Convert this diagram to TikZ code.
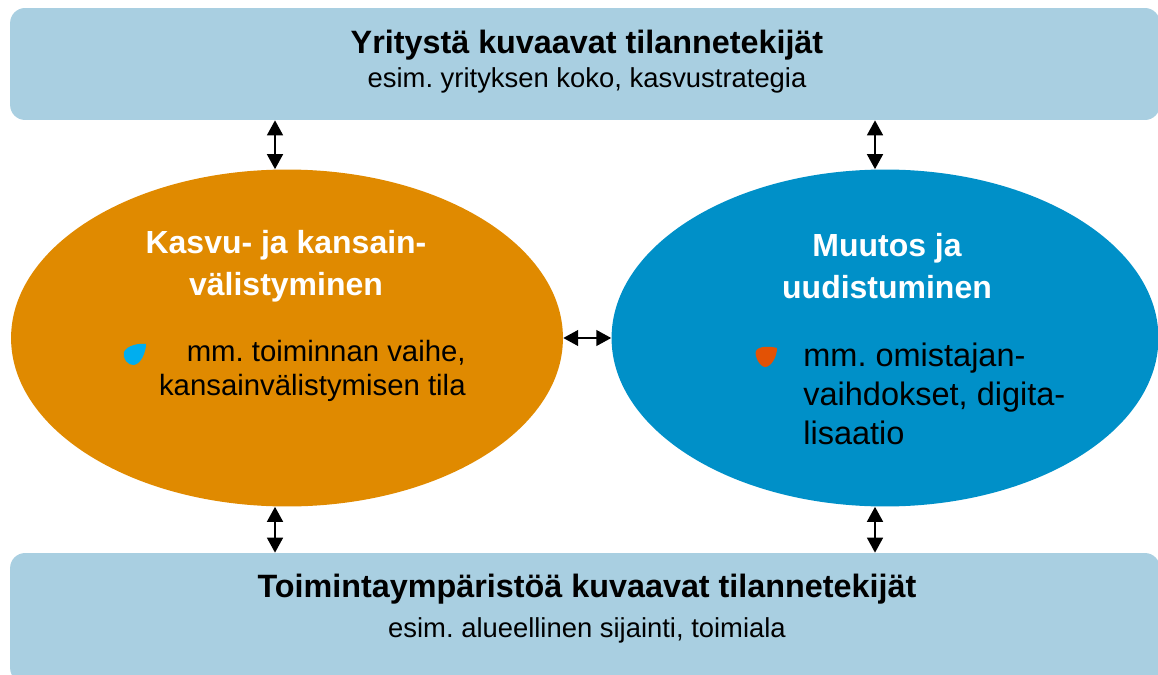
\documentclass[tikz,border=0pt]{standalone}
\usepackage{fontspec}
\setmainfont{Liberation Sans}
\usepackage{tikz}
\usetikzlibrary{arrows.meta,shapes.geometric}

\definecolor{boxblue}{RGB}{169,207,225}
\definecolor{groworange}{RGB}{224,138,0}
\definecolor{changeblue}{RGB}{0,144,200}
\definecolor{dotcyan}{RGB}{0,174,239}
\definecolor{dotred}{RGB}{227,82,5}

\begin{document}
\frenchspacing
\begin{tikzpicture}[x=0.02cm,y=-0.02cm,
      factorbox/.style={
         rectangle,
         rounded corners=0.3cm,
         fill=boxblue,
         draw=none,
         inner sep=0pt,
         minimum width=23.0cm},
      bigoval/.style={
         ellipse,
         draw=none,
         inner sep=0pt,
         minimum width=11.04cm,
         minimum height=6.74cm},
      boxtitle/.style={font=\fontsize{18.4}{22}\selectfont\bfseries},
      boxsub/.style={font=\fontsize{15.6}{18}\selectfont},
      ovaltitle/.style={font=\fontsize{18.2}{23.8}\selectfont\bfseries,text=white,align=center},
      ovaltext/.style={inner sep=0pt},
      myarrow/.style={{Triangle[width=9pt,length=8.5pt]}-{Triangle[width=9pt,length=8.5pt]},line width=1.1pt}
      ]
      \useasboundingbox (0,0) rectangle (1158,675);

      \node[factorbox,minimum height=2.24cm] (firm) at (585,64) {};
      \node[factorbox,minimum height=2.6cm] (env) at (585,618) {};
      \node[bigoval,fill=groworange] (grow) at (287,338) {};
      \node[bigoval,fill=changeblue,minimum width=10.94cm] (change) at (885,338) {};

      \node[boxtitle] (firmtitle) at (587,45) {Yritystä kuvaavat tilannetekijät};
      \node[boxsub] (firmsub) at (587,80) {esim. yrityksen koko, kasvustrategia};
      \node[boxtitle] (envtitle) at (587,589) {Toimintaympäristöä kuvaavat tilannetekijät};
      \node[boxsub] (envsub) at (587,630) {esim. alueellinen sijainti, toimiala};

      \node[ovaltitle] (growtitle) at (286,266) {Kasvu- ja kansain-\\välistyminen};
      \node[ovaltitle] (changetitle) at (887,266) {Muutos ja\\uudistuminen};

      \node[ovaltext,align=right,anchor=east,font=\fontsize{16.7}{19}\selectfont] (growtext) at (466,371)
         {mm. toiminnan vaihe,\\kansainvälistymisen tila};
      \node[ovaltext,align=left,anchor=west,font=\fontsize{18.5}{22}\selectfont] (changetext) at (803,394)
         {mm. omistajan-\\vaihdokset, digita-\\lisaatio};

      % bullets
      \fill[dotcyan] (146,344) .. controls (140,343) and (127,345) .. (124,352)
         .. controls (122,358) and (128,366) .. (134,365)
         .. controls (141,364) and (146,352) .. cycle;
      \fill[dotred] (777,348) .. controls (770,346) and (758,346) .. (756,351)
         .. controls (754,356) and (760,367) .. (765,367)
         .. controls (771,367) and (777,357) .. cycle;

      \coordinate (growtop) at ([xshift=-0.24cm]grow.north);
      \coordinate (growbot) at ([xshift=-0.24cm]grow.south);
      \coordinate (changetop) at ([xshift=-0.2cm]change.north);
      \coordinate (changebot) at ([xshift=-0.2cm]change.south);

      \draw[myarrow] (growtop |- firm.south) -- (growtop);
      \draw[myarrow] (growbot) -- (growbot |- env.north);
      \draw[myarrow] (changetop |- firm.south) -- (changetop);
      \draw[myarrow] (changebot) -- (changebot |- env.north);
      \draw[myarrow] (grow.east) -- (change.west);
    \end{tikzpicture}
\end{document}
